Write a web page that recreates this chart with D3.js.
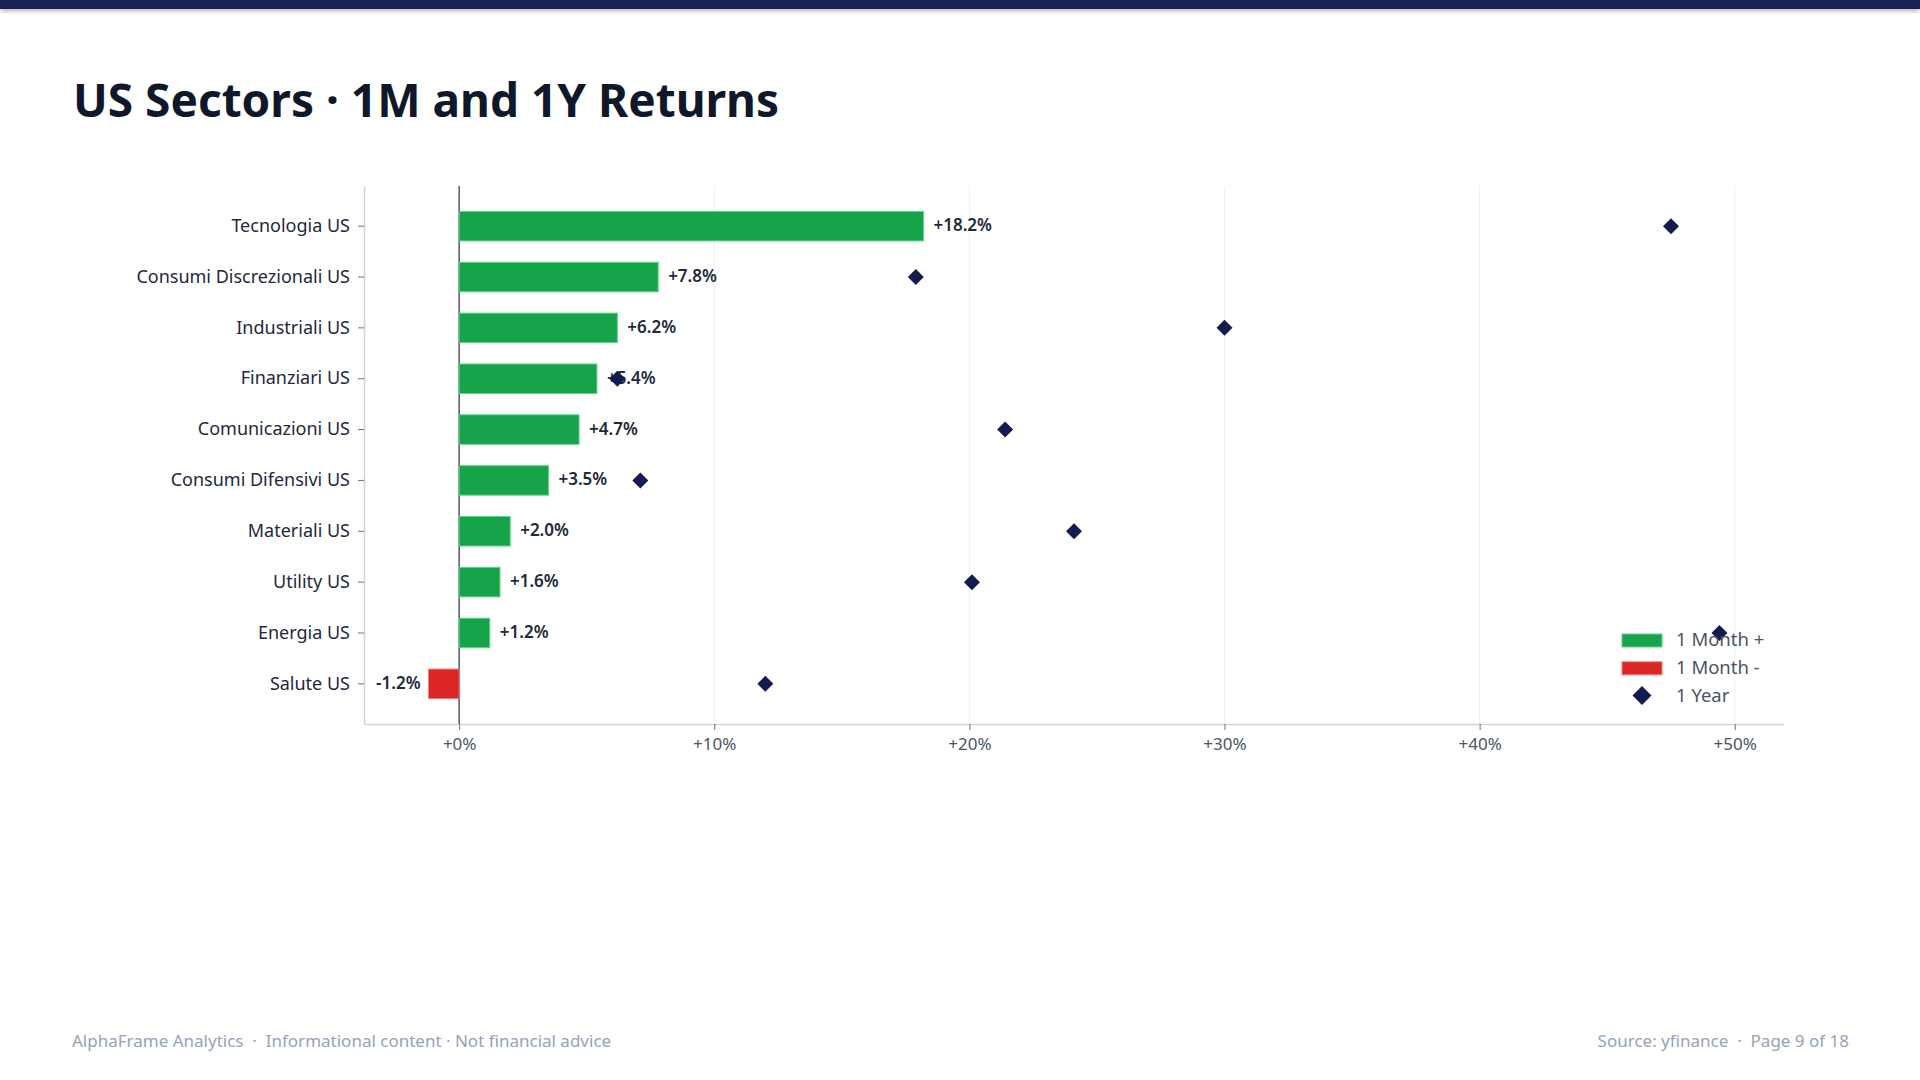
<!DOCTYPE html>
<html>
<head>
<meta charset="utf-8">
<script src="https://cdn.jsdelivr.net/npm/d3@7"></script>
<style>
  body { margin: 0; background: #fff; font-family: "Segoe UI", "Noto Sans", "Open Sans", sans-serif; }
  #topbar { position: absolute; left: 0; top: 0; width: 1920px; height: 9px; background: #172152; box-shadow: 0 2px 4px rgba(0,0,0,0.3); }
  #chart { position: absolute; left: 0; top: 0; }
</style>
</head>
<body>
<div id="chart"></div>
<div id="topbar"></div>
<script>
// sectors, top to bottom
const sectors = ["Tecnologia US", "Consumi Discrezionali US", "Industriali US", "Finanziari US",
  "Comunicazioni US", "Consumi Difensivi US", "Materiali US", "Utility US", "Energia US", "Salute US"];
// 1 month return (%)
const ret1M = [18.2, 7.8, 6.2, 5.4, 4.7, 3.5, 2.0, 1.6, 1.2, -1.2];
// 1 year return (%)
const ret1Y = [47.5, 17.9, 30.0, 6.2, 21.4, 7.1, 24.1, 20.1, 49.4, 12.0];
const xTicks = [0, 10, 20, 30, 40, 50];
const legendItems = ["1 Month +", "1 Month -", "1 Year"];

const W = 1920, H = 1080;
const margin = {top: 186, right: 136, bottom: 356, left: 364};
const width = W - margin.left - margin.right;
const height = H - margin.top - margin.bottom;

const green = "#16a34a", red = "#dc2626", navy = "#141c4f";
const font = "Segoe UI, Noto Sans, Open Sans, sans-serif";

const data = sectors.map((s, i) => ({sector: s, m: ret1M[i], y: ret1Y[i]}));

const svg = d3.select("#chart").append("svg")
  .attr("width", W).attr("height", H);

// title
svg.append("text")
  .attr("x", 73).attr("y", 117)
  .attr("font-size", 46).attr("font-weight", 700)
  .attr("fill", "#0f172a")
  .text("US Sectors · 1M and 1Y Returns");

// footer
svg.append("text")
  .attr("x", 72).attr("y", 1047)
  .attr("font-size", 17).attr("fill", "#94a3b8")
  .attr("xml:space", "preserve")
  .text("AlphaFrame Analytics  ·  Informational content · Not financial advice");
svg.append("text")
  .attr("x", 1849).attr("y", 1047)
  .attr("text-anchor", "end")
  .attr("font-size", 17).attr("fill", "#94a3b8")
  .attr("xml:space", "preserve")
  .text("Source: yfinance  ·  Page 9 of 18");

const g = svg.append("g").attr("transform", `translate(${margin.left},${margin.top})`);

// x domain padded 5% of the span of all values
const allVals = ret1M.concat(ret1Y, [0]);
const lo = d3.min(allVals), hi = d3.max(allVals);
const pad = (hi - lo) * 0.05;
const x = d3.scaleLinear().domain([lo - pad, hi + pad]).range([0, width]);

const y = d3.scaleBand().domain(sectors).range([0, height])
  .paddingInner(0.42).paddingOuter(0.5);

// gridlines
g.append("g").selectAll("line")
  .data(xTicks.filter(t => t !== 0))
  .join("line")
  .attr("x1", d => x(d)).attr("x2", d => x(d))
  .attr("y1", 0).attr("y2", height)
  .attr("stroke", "#eeeff1").attr("stroke-width", 1);

// zero line
g.append("line")
  .attr("x1", x(0)).attr("x2", x(0))
  .attr("y1", 0).attr("y2", height)
  .attr("stroke", "#5b6270").attr("stroke-width", 1.6);

// x axis
const xAxis = g.append("g")
  .attr("transform", `translate(0,${height})`)
  .call(d3.axisBottom(x).tickValues(xTicks).tickFormat(d => "+" + d + "%").tickSize(6).tickPadding(8).tickSizeOuter(0));
xAxis.select(".domain").attr("stroke", "#d1d5db").attr("stroke-width", 1.5);
xAxis.selectAll(".tick line").attr("stroke", "#6b7280");
xAxis.selectAll(".tick text").attr("font-size", 17).attr("fill", "#4b5563");

// y axis
const yAxis = g.append("g")
  .call(d3.axisLeft(y).tickSize(6).tickPadding(8).tickSizeOuter(0));
yAxis.select(".domain").attr("stroke", "#d1d5db").attr("stroke-width", 1.5);
yAxis.selectAll(".tick line").attr("stroke", "#6b7280");
yAxis.selectAll(".tick text").attr("font-size", 18).attr("fill", "#1e293b");
svg.selectAll(".tick text").attr("font-family", font);

// bars
g.append("g").selectAll("rect")
  .data(data)
  .join("rect")
  .attr("x", d => x(Math.min(0, d.m)))
  .attr("y", d => y(d.sector))
  .attr("width", d => Math.abs(x(d.m) - x(0)))
  .attr("height", y.bandwidth())
  .attr("fill", d => d.m >= 0 ? green : red)
  .attr("stroke", d => d.m >= 0 ? "#5fd38a" : "#f07a7a")
  .attr("stroke-width", 1);

// value labels
g.append("g").selectAll("text")
  .data(data)
  .join("text")
  .attr("x", d => d.m >= 0 ? x(d.m) + 10 : x(d.m) - 8)
  .attr("y", d => y(d.sector) + y.bandwidth() / 2 - 1)
  .attr("dy", "0.35em")
  .attr("text-anchor", d => d.m >= 0 ? "start" : "end")
  .attr("font-size", 17).attr("font-weight", 600)
  .attr("fill", "#1e293b")
  .text(d => (d.m >= 0 ? "+" : "") + d.m.toFixed(1) + "%");

// 1 year diamonds
const diamond = d3.symbol(d3.symbolSquare, 128);
g.append("g").selectAll("path")
  .data(data)
  .join("path")
  .attr("d", diamond)
  .attr("transform", d => `translate(${x(d.y)},${y(d.sector) + y.bandwidth() / 2}) rotate(45)`)
  .attr("fill", navy);

// legend
const legend = svg.append("g").attr("transform", "translate(1622,640)");
legendItems.forEach((name, i) => {
  const row = legend.append("g").attr("transform", `translate(0,${i * 27.8})`);
  if (i < 2) {
    row.append("rect")
      .attr("x", 0).attr("y", -6).attr("width", 40).attr("height", 13)
      .attr("fill", i === 0 ? green : red)
      .attr("stroke", i === 0 ? "#5fd38a" : "#f07a7a").attr("stroke-width", 1);
  } else {
    row.append("path")
      .attr("d", d3.symbol(d3.symbolSquare, 180))
      .attr("transform", "translate(20,0) rotate(45)")
      .attr("fill", navy);
  }
  row.append("text")
    .attr("x", 54).attr("y", 0).attr("dy", "0.35em")
    .attr("font-size", 18.5).attr("fill", "#4b5563")
    .text(name);
});
</script>
</body>
</html>
